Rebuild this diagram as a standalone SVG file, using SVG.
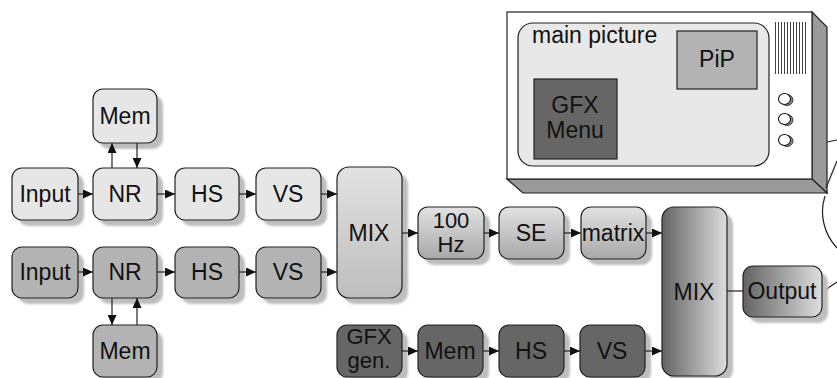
<svg xmlns="http://www.w3.org/2000/svg" width="837" height="378" viewBox="0 0 837 378">
  <defs>
    <style>
      text { font-family: "Liberation Sans", Arial, sans-serif; font-size: 23px; fill: #111; text-anchor: middle; }
      text.two { font-size: 22px; }
      .box { stroke: #222; stroke-width: 1.2; }
      .sh { fill: #bdbdbd; filter: url(#soft); }
      .light { fill: #e6e6e6; }
      .mid { fill: #b3b3b3; }
      .dark { fill: #666; }
      .vgrad { fill: url(#gv); }
      .mixgrad { fill: url(#gmix); }
      .hgrad { fill: url(#gh); }
      .wire { stroke: #222; stroke-width: 1.2; fill: none; }
      .arr { marker-end: url(#head); }
      .tv { stroke: #222; stroke-width: 1.2; }
      .grill { stroke: #111; stroke-width: 0.8; }
      .knob-sh { fill: #8a8a8a; stroke: #222; stroke-width: 0.8; }
      .knob { fill: #fff; stroke: #111; stroke-width: 1.1; }
    </style>
    <filter id="soft" x="-10%" y="-10%" width="120%" height="120%">
      <feGaussianBlur stdDeviation="1.2"/>
    </filter>
    <linearGradient id="gv" x1="0" y1="0" x2="0" y2="1">
      <stop offset="0" stop-color="#e2e2e2"/>
      <stop offset="1" stop-color="#a8a8a8"/>
    </linearGradient>
    <linearGradient id="gmix" x1="0" y1="0" x2="0" y2="1">
      <stop offset="0" stop-color="#e2e2e2"/>
      <stop offset="1" stop-color="#bdbdbd"/>
    </linearGradient>
    <linearGradient id="gh" x1="0" y1="0" x2="1" y2="0">
      <stop offset="0" stop-color="#636363"/>
      <stop offset="1" stop-color="#dedede"/>
    </linearGradient>
    <marker id="head" markerUnits="userSpaceOnUse" markerWidth="10" markerHeight="9" refX="10" refY="4.5" orient="auto">
      <path d="M0,0 L10,4.5 L0,9 z" fill="#111"/>
    </marker>
  </defs>

  <rect width="837" height="378" fill="#fff"/>

  <!-- television set -->
  <g id="tv">
    <polygon class="tv" points="812,12 827,27 827,193 812,179" fill="#9a9a9a"/>
    <polygon class="tv" points="507,179 812,179 827,193 523,193" fill="#9a9a9a"/>
    <rect class="tv" x="507" y="12" width="305" height="167" fill="#fff"/>
    <rect class="tv" x="518" y="23" width="251" height="143" rx="15" fill="#e8e8e8"/>
    <text x="532" y="43" style="text-anchor:start">main picture</text>
    <g id="pip">
      <rect class="tv" x="677" y="31" width="80" height="58" fill="#b3b3b3"/>
      <text x="717" y="67">PiP</text>
    </g>
    <g id="gfx-menu">
      <rect class="tv" x="534" y="79" width="83" height="80" fill="#666"/>
      <text x="575" y="113">GFX</text>
      <text x="575" y="138">Menu</text>
    </g>
    <g id="grill">
      <line class="grill" x1="775.5" y1="22" x2="775.5" y2="74"/>
      <line class="grill" x1="778.5" y1="22" x2="778.5" y2="74"/>
      <line class="grill" x1="781.5" y1="22" x2="781.5" y2="74"/>
      <line class="grill" x1="784.5" y1="22" x2="784.5" y2="74"/>
      <line class="grill" x1="787.5" y1="22" x2="787.5" y2="74"/>
      <line class="grill" x1="790.5" y1="22" x2="790.5" y2="74"/>
      <line class="grill" x1="793.5" y1="22" x2="793.5" y2="74"/>
      <line class="grill" x1="796.5" y1="22" x2="796.5" y2="74"/>
      <line class="grill" x1="799.5" y1="22" x2="799.5" y2="74"/>
      <line class="grill" x1="802.5" y1="22" x2="802.5" y2="74"/>
      <line class="grill" x1="805.5" y1="22" x2="805.5" y2="74"/>
    </g>
    <g id="knobs">
      <ellipse class="knob-sh" cx="787" cy="100" rx="6" ry="5.5"/>
      <ellipse class="knob" cx="784.5" cy="99" rx="6" ry="5.5"/>
      <ellipse class="knob-sh" cx="787" cy="120" rx="6" ry="5.5"/>
      <ellipse class="knob" cx="784.5" cy="119" rx="6" ry="5.5"/>
      <ellipse class="knob-sh" cx="787" cy="141" rx="6" ry="5.5"/>
      <ellipse class="knob" cx="784.5" cy="140" rx="6" ry="5.5"/>
    </g>
  </g>

  <!-- cable -->
  <g id="cable" class="wire">
    <path d="M827,142 L837,140"/>
    <path d="M826,188 L837,161"/>
    <path d="M825,196 C819,214 824,234 837,248"/>
    <path d="M822,292 L837,282"/>
  </g>

  <!-- upper input path -->
  <g id="input1"><rect class="sh" x="18" y="174" width="66" height="52" rx="10"/><rect class="box light" x="12" y="168" width="66" height="52" rx="10"/><text x="45" y="202">Input</text></g>
  <g id="nr1"><rect class="sh" x="99" y="174" width="64" height="52" rx="10"/><rect class="box light" x="93" y="168" width="64" height="52" rx="10"/><text x="125" y="202">NR</text></g>
  <g id="mem1"><rect class="sh" x="99" y="95" width="64" height="54" rx="10"/><rect class="box light" x="93" y="89" width="64" height="54" rx="10"/><text x="125" y="124">Mem</text></g>
  <g id="hs1"><rect class="sh" x="181" y="174" width="64" height="52" rx="10"/><rect class="box light" x="175" y="168" width="64" height="52" rx="10"/><text x="207" y="202">HS</text></g>
  <g id="vs1"><rect class="sh" x="262" y="174" width="65" height="52" rx="10"/><rect class="box light" x="256" y="168" width="65" height="52" rx="10"/><text x="288" y="202">VS</text></g>

  <!-- lower input path -->
  <g id="input2"><rect class="sh" x="18" y="253" width="66" height="51" rx="10"/><rect class="box mid" x="12" y="247" width="66" height="51" rx="10"/><text x="45" y="280">Input</text></g>
  <g id="nr2"><rect class="sh" x="99" y="253" width="64" height="51" rx="10"/><rect class="box mid" x="93" y="247" width="64" height="51" rx="10"/><text x="125" y="280">NR</text></g>
  <g id="mem2"><rect class="sh" x="99" y="331" width="64" height="52" rx="10"/><rect class="box mid" x="93" y="325" width="64" height="52" rx="10"/><text x="125" y="359">Mem</text></g>
  <g id="hs2"><rect class="sh" x="181" y="253" width="64" height="51" rx="10"/><rect class="box mid" x="175" y="247" width="64" height="51" rx="10"/><text x="207" y="280">HS</text></g>
  <g id="vs2"><rect class="sh" x="262" y="253" width="65" height="51" rx="10"/><rect class="box mid" x="256" y="247" width="65" height="51" rx="10"/><text x="288" y="280">VS</text></g>

  <!-- first mixer and post-processing -->
  <g id="mix1"><rect class="sh" x="343" y="173" width="65" height="131" rx="12"/><rect class="box mixgrad" x="337" y="167" width="65" height="131" rx="12"/><text x="369" y="241">MIX</text></g>
  <g id="hz100"><rect class="sh" x="424" y="213" width="66" height="52" rx="10"/><rect class="box vgrad" x="418" y="207" width="66" height="52" rx="10"/><text class="two" x="451" y="228">100</text><text class="two" x="451" y="252">Hz</text></g>
  <g id="se"><rect class="sh" x="505" y="213" width="65" height="52" rx="10"/><rect class="box vgrad" x="499" y="207" width="65" height="52" rx="10"/><text x="531" y="241">SE</text></g>
  <g id="matrix"><rect class="sh" x="587" y="213" width="65" height="52" rx="10"/><rect class="box vgrad" x="581" y="207" width="65" height="52" rx="10"/><text x="613" y="241">matrix</text></g>

  <!-- graphics path -->
  <g id="gfxgen"><rect class="sh" x="343" y="331" width="65" height="52" rx="10"/><rect class="box dark" x="337" y="325" width="65" height="52" rx="10"/><text class="two" x="369" y="344">GFX</text><text class="two" x="369" y="368">gen.</text></g>
  <g id="mem3"><rect class="sh" x="424" y="331" width="65" height="52" rx="10"/><rect class="box dark" x="418" y="325" width="65" height="52" rx="10"/><text x="450" y="359">Mem</text></g>
  <g id="hs3"><rect class="sh" x="505" y="331" width="65" height="52" rx="10"/><rect class="box dark" x="499" y="325" width="65" height="52" rx="10"/><text x="531" y="359">HS</text></g>
  <g id="vs3"><rect class="sh" x="586" y="331" width="65" height="52" rx="10"/><rect class="box dark" x="580" y="325" width="65" height="52" rx="10"/><text x="612" y="359">VS</text></g>

  <!-- output stage -->
  <g id="mix2"><rect class="sh" x="668" y="213" width="65" height="169" rx="12"/><rect class="box hgrad" x="662" y="207" width="65" height="169" rx="12"/><text x="694" y="300">MIX</text></g>
  <g id="output"><rect class="sh" x="749" y="272" width="79" height="51" rx="10"/><rect class="box hgrad" x="743" y="266" width="79" height="51" rx="10"/><text x="782" y="299">Output</text></g>

  <!-- connectors -->
  <g id="connectors" class="wire">
    <line class="arr" x1="78" y1="194" x2="93" y2="194"/>
    <line class="arr" x1="157" y1="194" x2="175" y2="194"/>
    <line class="arr" x1="239" y1="194" x2="256" y2="194"/>
    <line class="arr" x1="321" y1="194" x2="337" y2="194"/>
    <line class="arr" x1="112" y1="168" x2="112" y2="143"/>
    <line class="arr" x1="137" y1="143" x2="137" y2="168"/>

    <line class="arr" x1="78" y1="272" x2="93" y2="272"/>
    <line class="arr" x1="157" y1="272" x2="175" y2="272"/>
    <line class="arr" x1="239" y1="272" x2="256" y2="272"/>
    <line class="arr" x1="321" y1="272" x2="337" y2="272"/>
    <line class="arr" x1="112" y1="298" x2="112" y2="325"/>
    <line class="arr" x1="137" y1="325" x2="137" y2="298"/>

    <line class="arr" x1="402" y1="233" x2="418" y2="233"/>
    <line class="arr" x1="484" y1="233" x2="499" y2="233"/>
    <line class="arr" x1="564" y1="233" x2="581" y2="233"/>
    <line class="arr" x1="646" y1="233" x2="662" y2="233"/>

    <line class="arr" x1="402" y1="351" x2="418" y2="351"/>
    <line class="arr" x1="483" y1="351" x2="499" y2="351"/>
    <line class="arr" x1="564" y1="351" x2="580" y2="351"/>
    <line class="arr" x1="645" y1="351" x2="662" y2="351"/>

    <line x1="727" y1="291" x2="743" y2="291"/>
  </g>
</svg>
